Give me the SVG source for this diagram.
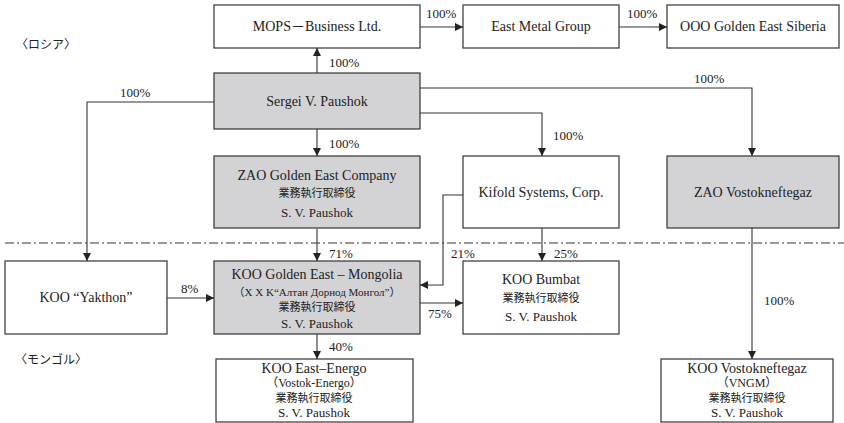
<svg xmlns="http://www.w3.org/2000/svg" width="844" height="423" viewBox="0 0 844 423">
<defs>
<marker id="ah" markerUnits="userSpaceOnUse" markerWidth="8" markerHeight="8" refX="8" refY="4" orient="auto">
<path d="M0,0 L8,4 L0,8 z" fill="#222"/>
</marker>
<style>
.box{fill:#fff;stroke:#333;stroke-width:1.2}
.g{fill:#d3d3d5;stroke:#333;stroke-width:1.2}
.t{font-family:'Liberation Serif','DejaVu Serif','Noto Sans CJK JP',serif;font-size:14px;fill:#222;text-anchor:middle}
.s{font-family:'Liberation Serif','DejaVu Serif','Noto Sans CJK JP',serif;font-size:13px;fill:#222;text-anchor:middle}
.j{font-family:'Noto Sans CJK JP','Liberation Serif',sans-serif;font-size:11px;fill:#222;text-anchor:middle}
.p{font-family:'Liberation Serif','DejaVu Serif','Noto Sans CJK JP',serif;font-size:13px;fill:#222}
.c{fill:none;stroke:#333;stroke-width:1.1}
</style>
</defs>
<rect width="844" height="423" fill="#fff"/>
<line x1="5" y1="243" x2="844" y2="243" stroke="#333" stroke-width="1" stroke-dasharray="9,3,2,3"/>
<text class="j" x="46" y="49" style="font-size:12px">〈ロシア〉</text>
<text class="j" x="51" y="364" style="font-size:12px">〈モンゴル〉</text>
<g id="connectors">
<path class="c" d="M317,73 V48" marker-end="url(#ah)"/>
<path class="c" d="M420,27 H463" marker-end="url(#ah)"/>
<path class="c" d="M619,27 H667" marker-end="url(#ah)"/>
<path class="c" d="M317,129 V156" marker-end="url(#ah)"/>
<path class="c" d="M214,102 H87 V261" marker-end="url(#ah)"/>
<path class="c" d="M420,113 H542 V156" marker-end="url(#ah)"/>
<path class="c" d="M420,88 H752 V156" marker-end="url(#ah)"/>
<path class="c" d="M317,229 V261" marker-end="url(#ah)"/>
<path class="c" d="M542,228 V261" marker-end="url(#ah)"/>
<path class="c" d="M463,195 H443 V285 H420" marker-end="url(#ah)"/>
<path class="c" d="M167,298 H214" marker-end="url(#ah)"/>
<path class="c" d="M420,303 H463" marker-end="url(#ah)"/>
<path class="c" d="M317,334 V359" marker-end="url(#ah)"/>
<path class="c" d="M752,228 V359" marker-end="url(#ah)"/>
<text class="p" x="426" y="18">100%</text>
<text class="p" x="627" y="18">100%</text>
<text class="p" x="329" y="67">100%</text>
<text class="p" x="329" y="148">100%</text>
<text class="p" x="120" y="97">100%</text>
<text class="p" x="694" y="83">100%</text>
<text class="p" x="553" y="140">100%</text>
<text class="p" x="329" y="258">71%</text>
<text class="p" x="451" y="258">21%</text>
<text class="p" x="554" y="258">25%</text>
<text class="p" x="181" y="293">8%</text>
<text class="p" x="428" y="318">75%</text>
<text class="p" x="329" y="351">40%</text>
<text class="p" x="764" y="305">100%</text>
</g>
<g id="mops"><rect class="box" x="214" y="5" width="206" height="43"/><text class="t" x="317" y="31">MOPS－Business Ltd.</text></g>
<g id="eastmetal"><rect class="box" x="463" y="5" width="156" height="43"/><text class="t" x="541" y="31">East Metal Group</text></g>
<g id="siberia"><rect class="box" x="667" y="5" width="172" height="43"/><text class="t" x="753" y="31">OOO Golden East Siberia</text></g>
<g id="sergei"><rect class="g" x="214" y="73" width="206" height="56"/><text class="t" x="317" y="106">Sergei V. Paushok</text></g>
<g id="zaoge"><rect class="g" x="214" y="156" width="206" height="72"/><text class="t" x="317" y="180">ZAO Golden East Company</text><text class="j" x="317" y="197">業務執行取締役</text><text class="s" x="317" y="217">S. V. Paushok</text></g>
<g id="kifold"><rect class="box" x="463" y="156" width="156" height="72"/><text class="t" x="541" y="197">Kifold Systems, Corp.</text></g>
<g id="zaov"><rect class="g" x="667" y="156" width="172" height="72"/><text class="t" x="753" y="197">ZAO Vostokneftegaz</text></g>
<g id="yakthon"><rect class="box" x="5" y="261" width="162" height="73"/><text class="t" x="86" y="302">KOO “Yakthon”</text></g>
<g id="mongolia"><rect class="g" x="214" y="261" width="206" height="73"/><text class="t" x="317" y="279">KOO Golden East – Mongolia</text><text class="s" x="317" y="296" style="font-size:11px">（X X K“Алтан Дорнод Монгол”）</text><text class="j" x="317" y="311">業務執行取締役</text><text class="s" x="317" y="328">S. V. Paushok</text></g>
<g id="bumbat"><rect class="box" x="463" y="261" width="156" height="73"/><text class="t" x="541" y="284">KOO Bumbat</text><text class="j" x="541" y="302">業務執行取締役</text><text class="s" x="541" y="321">S. V. Paushok</text></g>
<g id="energo"><rect class="box" x="216" y="359" width="197" height="63"/><text class="t" x="314" y="373">KOO East–Energo</text><text class="s" x="314" y="387" style="font-size:12px">（Vostok-Energo）</text><text class="j" x="314" y="402">業務執行取締役</text><text class="s" x="314" y="417">S. V. Paushok</text></g>
<g id="koov"><rect class="box" x="661" y="359" width="172" height="63"/><text class="t" x="747" y="373">KOO Vostokneftegaz</text><text class="s" x="747" y="387" style="font-size:12px">（VNGM）</text><text class="j" x="747" y="402">業務執行取締役</text><text class="s" x="747" y="417">S. V. Paushok</text></g>
</svg>
